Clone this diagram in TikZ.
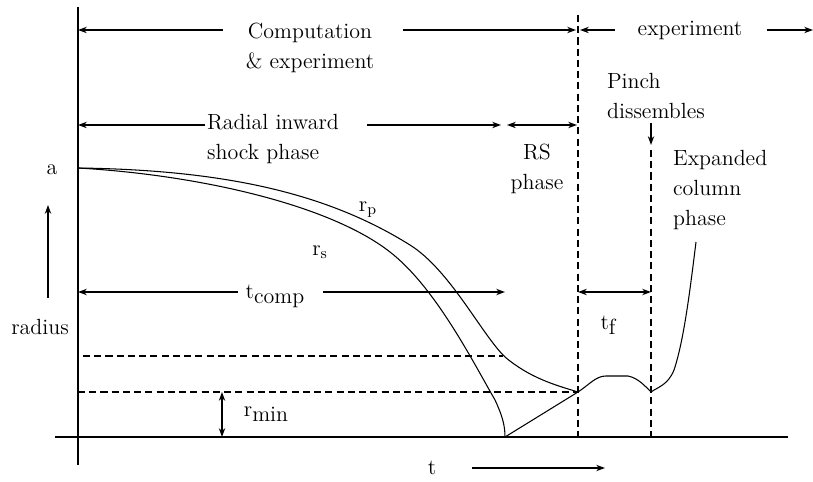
\documentclass[tikz,border=0pt]{standalone}
\usetikzlibrary{arrows.meta, positioning}
\tikzset{
    phaseline/.style={line width=0.8pt},
    guide/.style={dashed, dash pattern=on 4pt off 2.4pt, line width=0.6pt},
    curve/.style={line width=0.6pt, line join=round},
    lbl/.style={inner sep=1pt, align=left}
}
\newcommand{\lowsub}[2]{#1\raisebox{-0.55ex}{#2}}

\begin{document}
\begin{tikzpicture}[x=0.02cm, y=-0.02cm, >={Stealth[length=5pt, width=3.6pt]},
    font=\fontsize{12.5}{17}\selectfont]
    \useasboundingbox (0,0) rectangle (813,482);

    % axes
    \coordinate (top) at (78,7);
    \coordinate (bot) at (78,465);
    \coordinate (xl) at (55,437);
    \coordinate (xr) at (788,437);
    \draw[line width=1.1pt] (top) -- (bot);
    \draw[line width=1.1pt] (xl) -- (xr);

    % phase boundaries
    \coordinate (start) at (78,168);
    \coordinate (pinch) at (578,392);
    \coordinate (dis) at (651,392);
    \coordinate (rmin0) at (505,437);
    \draw[guide] (578,15) -- (578,437);
    \draw[guide] (651,150) -- (651,437);
    \draw[guide] (83,356) -- (503,356);
    \draw[guide] (78,392) -- (pinch);

    % texts
    \node[lbl, align=center] (comp) at (310,48) {Computation\\\& experiment};
    \node[lbl] (expt) at (690,30) {experiment};
    \node[lbl, anchor=west] (radial) at (205,139) {Radial inward\\shock phase};
    \node[lbl, align=center] (rsph) at (537,169) {RS\\phase};
    \node[lbl, anchor=west] (pinchtxt) at (605,96) {Pinch\\dissembles};
    \node[lbl, anchor=west] (expcol) at (671,190) {Expanded\\column\\phase};
    \node[lbl] (a) at (52,170) {a};
    \node[lbl] (radius) at (40,327) {radius};
    \node[lbl] (rp) at (368,210) {r\textsubscript{p}};
    \node[lbl] (rs) at (320,252) {r\textsubscript{s}};
    \node[lbl] (tcomp) at (275,296) {\lowsub{t}{comp}};
    \node[lbl] (tf) at (608,325) {\lowsub{t}{f}};
    \node[lbl] (rmin) at (266,414) {\lowsub{r}{min}};
    \node[lbl] (t) at (432,468) {t};

    % phase arrows
    \draw[phaseline, ->] (223,30) -- (78,30);
    \draw[phaseline, ->] (403,30) -- (576,30);
    \draw[phaseline, ->] (615,30) -- (580,30);
    \draw[phaseline, ->] (767,30) -- (813,30);
    \draw[phaseline, ->] (radial.west |- 0,125) -- (78,125);
    \draw[phaseline, ->] (367,125) -- (501,125);
    \draw[phaseline, <->] (507,125) -- (577,125);
    \draw[phaseline, ->] (238,292) -- (78,292);
    \draw[phaseline, ->] (323,292) -- (505,292);
    \draw[phaseline, <->] (578,292) -- (651,292);
    \draw[phaseline, ->] (651,123) -- (651,145);
    \draw[phaseline, ->] (48,298) -- (48,205);
    \draw[phaseline, <->] (222,392) -- (222,437);
    \draw[phaseline, ->] (472,468) -- (605,468);

    % radius curves
    \draw[curve] (start) .. controls (230,170) and (330,195) .. (410,245)
        .. controls (450,270) and (482,335) .. (505,357)
        .. controls (530,378) and (555,385) .. (pinch);
    \draw[curve] (start) .. controls (200,175) and (330,205) .. (390,252)
        .. controls (435,287) and (472,360) .. (495,400)
        .. controls (502,415) and (505,425) .. (rmin0);
    \draw[curve] (rmin0) -- (pinch) .. controls (590,384) and (596,376) .. (606,376)
        -- (628,376) .. controls (638,378) and (645,386) .. (dis)
        .. controls (658,387) and (668,385) .. (674,370)
        .. controls (684,340) and (690,290) .. (696,242);
\end{tikzpicture}
\end{document}
